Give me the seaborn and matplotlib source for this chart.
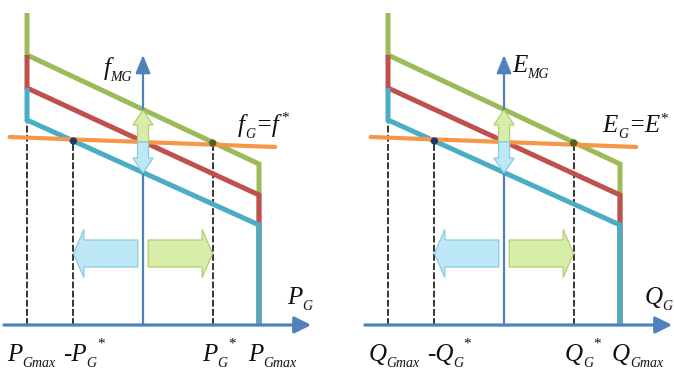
import matplotlib
matplotlib.use("Agg")
import matplotlib.pyplot as plt
from matplotlib.patches import FancyArrow
import pandas as pd
import seaborn as sns

# ---- droop characteristics (per unit) ----
p_limit = [-1.0, 1.0]            # -X_Gmax, X_Gmax
p_set = [-0.6, 0.6]              # -X_G*, X_G*
cap_top = 3.12                   # top of the limit segment
curve_names = ["upper", "middle", "lower"]
curve_start = [2.70, 2.37, 2.05]  # value at -X_Gmax
curve_end = [1.61, 1.30, 1.00]    # value at +X_Gmax
ref_x = [-1.15, 1.14]             # reference line f_G = f*
ref_y = [1.88, 1.78]
op_y = [1.84, 1.82]               # operating points on lower / upper curve
axis_x = [-1.20, 1.45]
axis_top = 2.70

# ---- labels ----
panels = [
    dict(var="P", yname=("f", "MG"), ref=("f", "G"), yside="left",
         ticks=[("", "Gmax", False, -1.17), ("-", "G", True, -0.69),
                ("", "G", True, 0.51), ("", "Gmax", False, 0.905)]),
    dict(var="Q", yname=("E", "MG"), ref=("E", "G"), yside="right",
         ticks=[("", "Gmax", False, -1.17), ("-", "G", True, -0.665),
                ("", "G", True, 0.525), ("", "Gmax", False, 0.93)]),
]

COLORS = dict(upper="#9BBB59", middle="#C0504D", lower="#4BACC6")
ORANGE = "#F79646"
BLUE = "#4F81BD"
INK = "#111111"
CYAN_FILL, CYAN_EDGE = "#BFE8F6", "#86CBE2"
LIME_FILL, LIME_EDGE = "#D9EDAA", "#AFCF72"

FS, FS_SUB, FS_SUP = 18, 10, 11

sns.set_theme(style="white")
plt.rcParams["font.family"] = ["Liberation Serif", "DejaVu Serif"]


def curve_frame():
    rows = []
    tops = [cap_top] + curve_start[:-1]
    for name, top, s, e in zip(curve_names, tops, curve_start, curve_end):
        xs = [p_limit[0], p_limit[0], p_limit[1], p_limit[1]]
        ys = [top, s, e, 0.0]
        for i, (x, y) in enumerate(zip(xs, ys)):
            rows.append(dict(curve=name, p=x, f=y, step=i))
    return pd.DataFrame(rows)


def symbol(ax, x, y, base, sub, star=False, lead=""):
    main = ax.text(x, y, lead + base, fontsize=FS, fontstyle="italic",
                   ha="left", va="baseline", color=INK, zorder=10)
    low = ax.annotate(sub, xy=(1, 0), xycoords=main, xytext=(0.0, -1.0),
                      textcoords="offset points", fontsize=FS_SUB,
                      fontstyle="italic", ha="left", va="baseline",
                      color=INK, zorder=10)
    if star:
        ax.annotate("*", xy=(1, 1), xycoords=(low, main), xytext=(0.3, 4.5),
                    textcoords="offset points", fontsize=FS_SUP, ha="left",
                    va="top", color=INK, zorder=10)
    return main, low


def draw_panel(ax, spec):
    df = curve_frame()
    sns.lineplot(data=df, x="p", y="f", hue="curve", hue_order=curve_names,
                 palette=COLORS, estimator=None, sort=False, lw=3.6,
                 legend=False, ax=ax, zorder=3)
    for line in ax.get_lines():
        line.set_solid_joinstyle("miter")
        line.set_solid_capstyle("butt")

    # dashed projections onto the horizontal axis
    ax.plot([p_limit[0]] * 2, [0, curve_start[-1]], color="black", lw=1.1,
            ls=(0, (4.5, 1.5)), zorder=2)
    for x, y in zip(p_set, op_y):
        ax.plot([x, x], [0, y], color="black", lw=1.1, ls=(0, (4.5, 1.5)),
                zorder=2)

    # reference line
    sns.lineplot(x=ref_x, y=ref_y, color=ORANGE, lw=3.0, ax=ax, zorder=4)

    # operating points
    ax.scatter(p_set, op_y, s=28, c=["#1F3864", "#4F6228"], zorder=7,
               linewidths=0)

    # axes with arrow heads
    ax.annotate("", xy=(0, axis_top), xytext=(0, 0),
                arrowprops=dict(arrowstyle="-|>,head_length=1.1,head_width=0.45",
                                color=BLUE, lw=1.6, shrinkA=0, shrinkB=0,
                                mutation_scale=10), zorder=5)
    ax.annotate("", xy=(axis_x[1], 0), xytext=(axis_x[0], 0),
                arrowprops=dict(arrowstyle="-|>,head_length=1.0,head_width=0.5",
                                color=BLUE, lw=2.3, shrinkA=0, shrinkB=0,
                                mutation_scale=10), zorder=6)

    # shift arrows
    arrows = [
        (0, 1.83, 0, 0.32, 0.095, 0.175, 0.15, LIME_FILL, LIME_EDGE),
        (0, 1.83, 0, -0.31, 0.095, 0.175, 0.15, CYAN_FILL, CYAN_EDGE),
        (-0.045, 0.715, -0.555, 0, 0.27, 0.48, 0.09, CYAN_FILL, CYAN_EDGE),
        (0.045, 0.715, 0.555, 0, 0.27, 0.48, 0.09, LIME_FILL, LIME_EDGE),
    ]
    for x, y, dx, dy, w, hw, hl, fc, ec in arrows:
        ax.add_patch(FancyArrow(x, y, dx, dy, width=w, head_width=hw,
                                head_length=hl, length_includes_head=True,
                                fc=fc, ec=ec, lw=0.9, zorder=8))

    var = spec["var"]
    # axis names
    base, sub = spec["yname"]
    if spec["yside"] == "left":
        symbol(ax, -0.34, 2.50, base, sub)
    else:
        symbol(ax, 0.07, 2.53, base, sub)
    symbol(ax, 1.24 if var == "P" else 1.21, 0.21, var, "G")

    # reference label  X_G = X*
    base, sub = spec["ref"]
    rx = 0.82 if var == "P" else 0.85
    main, low = symbol(ax, rx, 1.93, base, sub)
    eq = ax.annotate("=" + base, xy=(1, 1.93), xycoords=(low, "data"),
                     xytext=(0.0, 0), textcoords="offset points", fontsize=FS,
                     fontstyle="italic", ha="left", va="baseline", color=INK,
                     zorder=10)
    ax.annotate("*", xy=(1, 1), xycoords=(eq, main),
                xytext=(1.5 if base == "f" else 0.5, 2.0),
                textcoords="offset points", fontsize=FS_SUP, ha="left",
                va="top", color=INK, zorder=10)

    # tick labels under the horizontal axis
    for lead, sub, star, x in spec["ticks"]:
        symbol(ax, x, -0.36, var, sub, star=star, lead=lead)

    ax.set_xlim(-1.22, 1.50)
    ax.set_ylim(-0.53, 3.25)
    ax.axis("off")


fig = plt.figure(figsize=(6.74, 3.78), dpi=100)
W = 674.0
ax_l = fig.add_axes([1.5 / W, 0, 315.5 / W, 1])
ax_r = fig.add_axes([362.5 / W, 0, 315.5 / W, 1])
for ax, spec in zip([ax_l, ax_r], panels):
    draw_panel(ax, spec)

fig.savefig("out.png", dpi=100)
